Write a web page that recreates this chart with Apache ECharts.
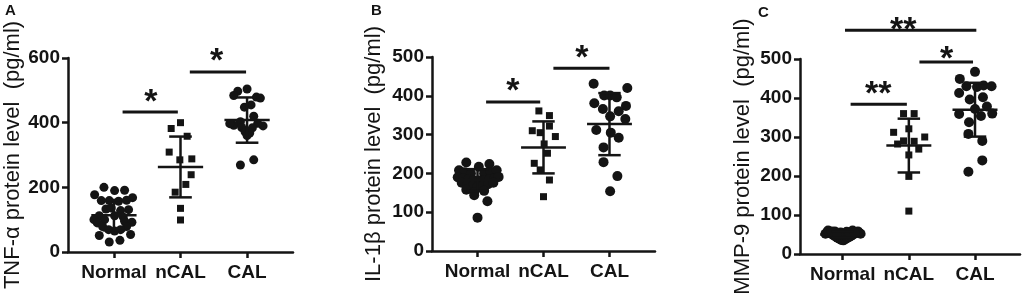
<!DOCTYPE html>
<html>
<head>
<meta charset="utf-8">
<script src="https://cdn.jsdelivr.net/npm/echarts@6/dist/echarts.min.js"></script>
<style>
  html, body { margin: 0; padding: 0; background: #fff; }
  #chart { width: 1023px; height: 294px; }
</style>
</head>
<body>
<div id="chart"></div>
<script>
const groups = ['Normal', 'nCAL', 'CAL'];

// points: [offset from group centre, value]
const tnfNormal = [
  [-0.29, 177], [-0.15, 200], [0.01, 190], [0.16, 191], [0.28, 168],
  [-0.19, 159], [-0.07, 159], [0.07, 157], [0.19, 160],
  [-0.12, 133], [-0.04, 136], [0.22, 131], [0.10, 128],
  [-0.22, 112], [0.01, 112], [0.14, 108], [-0.30, 100],
  [-0.14, 100], [0.16, 95], [-0.25, 90], [0.27, 92],
  [-0.17, 79], [0.19, 79], [-0.08, 69], [0.10, 69], [0.01, 65],
  [-0.22, 51], [0.25, 54], [-0.07, 31], [0.09, 36]
];
const tnfNcal = [
  [0.0, 400], [-0.14, 382], [0.10, 358], [-0.17, 309], [-0.01, 285], [0.17, 288],
  [0.16, 239], [0.08, 209], [-0.08, 185], [0.0, 135], [0.0, 99]
];
const tnfCal = [
  [0.0, 504], [-0.14, 497], [-0.20, 484], [0.14, 479], [0.20, 476], [0.06, 455],
  [-0.04, 448], [0.10, 420], [-0.10, 403], [-0.20, 392], [0.24, 390], [-0.26, 397],
  [0.16, 398], [-0.08, 385], [0.08, 384], [-0.03, 372], [0.04, 368], [0.0, 360],
  [-0.10, 269], [0.10, 285]
];
const tnfMean = [114, 263, 408];
const tnfSd = [47, 94, 70];
// [x1, x2, y, starX, starY, stars]
const tnfSig = [[1.13, 1.96, 433, 1.556, 488, 1], [2.14, 2.985, 557, 2.544, 612, 1]];

const il1bNormal = [
  [-0.17, 228], [0.18, 224], [0.02, 217],
  [-0.28, 208], [-0.20, 203], [-0.10, 200], [0.10, 200], [0.20, 203], [0.29, 208],
  [-0.30, 190], [-0.22, 186], [-0.14, 184], [-0.06, 182], [0.02, 182], [0.10, 183],
  [0.18, 185], [0.26, 188], [0.32, 191],
  [-0.24, 176], [-0.15, 172], [-0.07, 168], [0.0, 165], [0.08, 168], [0.16, 172], [0.24, 176],
  [-0.17, 158], [-0.05, 152], [0.10, 155],
  [-0.05, 144], [0.15, 128], [0.0, 86]
];
const il1bNcal = [
  [-0.07, 361], [0.09, 349], [0.09, 322], [-0.17, 310], [-0.05, 305], [0.18, 295],
  [0.01, 276], [0.06, 252], [-0.14, 226], [-0.05, 209], [0.09, 183], [0.0, 140]
];
const il1bCal = [
  [-0.24, 431], [0.27, 420], [-0.08, 401], [0.01, 401], [0.11, 396], [-0.23, 381],
  [0.25, 374], [-0.10, 366], [0.14, 360], [0.01, 347], [0.24, 340], [-0.20, 312],
  [0.02, 305], [0.14, 292], [-0.09, 267], [-0.09, 229], [0.12, 193], [0.01, 154]
];
const il1bMean = [183, 267, 327];
const il1bSd = [28, 67, 80];
const il1bSig = [[1.13, 1.95, 384, 1.537, 431, 1], [2.15, 3.0, 471, 2.58, 517, 1]];

const mmpNormal = [
  [-0.26, 52], [-0.23, 56], [-0.20, 54], [-0.17, 52], [-0.14, 48], [-0.11, 45],
  [-0.08, 42], [-0.05, 39], [-0.02, 36], [0.01, 35], [0.04, 38], [0.07, 41],
  [0.10, 44], [0.13, 47], [0.16, 50], [0.19, 53], [0.22, 56], [0.25, 54], [0.27, 52],
  [-0.22, 60], [-0.12, 58], [-0.03, 55], [0.06, 57], [0.15, 60], [0.23, 58],
  [-0.17, 58], [0.0, 50], [0.10, 53], [-0.08, 50], [0.18, 55]
];
const mmpNcal = [
  [-0.08, 360], [0.08, 360], [0.0, 321], [-0.23, 312], [0.24, 300], [-0.08, 290],
  [0.08, 289], [-0.17, 282], [0.15, 269], [0.0, 254], [0.0, 199], [0.0, 110]
];
const mmpCal = [
  [0.0, 467], [-0.23, 449], [-0.13, 430], [0.03, 428], [0.13, 432], [0.25, 430],
  [-0.24, 413], [0.12, 402], [-0.08, 396], [0.18, 378], [0.0, 372], [-0.24, 359],
  [0.09, 354], [0.26, 360], [-0.09, 338], [-0.10, 308], [0.11, 290], [0.11, 240], [-0.10, 211]
];
const mmpMean = [50, 278, 370];
const mmpSd = [8, 69, 69];
const mmpSig = [[1.035, 3.02, 574, 1.915, 592, 2], [2.16, 2.97, 492, 2.57, 518, 1], [1.12, 1.97, 384, 1.538, 430, 2]];

const INK = '#141414';
const FONT = 'Liberation Sans, Arial, sans-serif';

const panels = [
  { name: 'TNF-α protein level  (pg/ml)', max: 600, step: 200, xMin: 0.31, xMax: 3.69, gap: 44,
    grid: { left: 68, top: 58, width: 225, height: 194 }, dot: 9,
    pts: [tnfNormal, tnfNcal, tnfCal], mean: tnfMean, sd: tnfSd, sig: tnfSig },
  { name: 'IL-1β protein level  (pg/ml)', max: 500, step: 100, xMin: 0.31, xMax: 3.69, gap: 47,
    grid: { left: 432, top: 57, width: 223, height: 194 }, dot: 10,
    pts: [il1bNormal, il1bNcal, il1bCal], mean: il1bMean, sd: il1bSd, sig: il1bSig },
  { name: 'MMP-9 protein level  (pg/ml)', max: 500, step: 100, xMin: 0.355, xMax: 3.68, gap: 46,
    grid: { left: 800, top: 59, width: 220, height: 195 }, dot: 10,
    pts: [mmpNormal, mmpNcal, mmpCal], mean: mmpMean, sd: mmpSd, sig: mmpSig }
];

function errorBar(params, api) {
  const x = api.value(0), m = api.value(1), s = api.value(2);
  const unit = api.size([1, 0])[0];
  const c = api.coord([x, m]);
  const t = api.coord([x, m + s]);
  const b = api.coord([x, m - s]);
  const wide = unit * 0.34, cap = unit * 0.17;
  const st = { stroke: INK, lineWidth: 2.5 };
  return {
    type: 'group',
    children: [
      { type: 'line', shape: { x1: t[0], y1: t[1], x2: b[0], y2: b[1] }, style: st },
      { type: 'line', shape: { x1: c[0] - wide, y1: c[1], x2: c[0] + wide, y2: c[1] }, style: st },
      { type: 'line', shape: { x1: t[0] - cap, y1: t[1], x2: t[0] + cap, y2: t[1] }, style: st },
      { type: 'line', shape: { x1: b[0] - cap, y1: b[1], x2: b[0] + cap, y2: b[1] }, style: st }
    ]
  };
}

function sigBar(params, api) {
  const p1 = api.coord([api.value(0), api.value(2)]);
  const p2 = api.coord([api.value(1), api.value(2)]);
  const s = api.coord([api.value(3), api.value(4)]);
  return {
    type: 'group',
    children: [
      { type: 'line', shape: { x1: p1[0], y1: p1[1], x2: p2[0], y2: p2[1] },
        style: { stroke: INK, lineWidth: 3 } },
      { type: 'text', x: s[0], y: s[1] + 8,
        style: { text: '*'.repeat(api.value(5)), fill: INK, font: 'bold 34px ' + FONT,
                 align: 'center', verticalAlign: 'middle' } }
    ]
  };
}

const grids = [], xAxes = [], yAxes = [], series = [];
panels.forEach((p, i) => {
  grids.push(Object.assign({ outerBoundsMode: 'none', containLabel: false }, p.grid));
  xAxes.push({
    type: 'value', gridIndex: i, min: p.xMin, max: p.xMax,
    splitLine: { show: false },
    axisLine: { lineStyle: { color: INK, width: 2.5 } },
    axisTick: { length: 6, customValues: [1, 2, 3], lineStyle: { color: INK, width: 2.5 } },
    axisLabel: { customValues: [1, 2, 3], formatter: v => groups[Math.round(v) - 1],
                 color: INK, fontFamily: FONT, fontWeight: 'bold', fontSize: 19, margin: 11 }
  });
  yAxes.push({
    type: 'value', gridIndex: i, min: 0, max: p.max, interval: p.step,
    name: p.name, nameLocation: 'middle', nameGap: p.gap,
    nameTextStyle: { color: INK, fontFamily: FONT, fontSize: 22 },
    splitLine: { show: false },
    axisLine: { show: true, lineStyle: { color: INK, width: 2.5 } },
    axisTick: { show: true, length: 6, lineStyle: { color: INK, width: 2.5 } },
    axisLabel: { color: INK, fontFamily: FONT, fontWeight: 'bold', fontSize: 19, margin: 8 }
  });
  p.pts.forEach((pts, g) => {
    series.push({
      type: 'scatter', xAxisIndex: i, yAxisIndex: i,
      symbol: g === 1 ? 'rect' : 'circle', symbolSize: g === 1 ? 7 : p.dot,
      itemStyle: { color: INK, opacity: 1 },
      emphasis: { disabled: true },
      data: pts.map(d => [g + 1 + d[0], d[1]])
    });
  });
  series.push({
    type: 'custom', xAxisIndex: i, yAxisIndex: i, z: 5,
    renderItem: errorBar,
    data: p.mean.map((m, g) => [g + 1, m, p.sd[g]])
  });
  series.push({
    type: 'custom', xAxisIndex: i, yAxisIndex: i, z: 5, clip: false,
    renderItem: sigBar,
    data: p.sig
  });
});

const chart = echarts.init(document.getElementById('chart'), null, { renderer: 'canvas' });
chart.setOption({
  animation: false,
  backgroundColor: '#fff',
  title: [
    { text: 'A', left: 5, top: 3 },
    { text: 'B', left: 371, top: 3 },
    { text: 'C', left: 758, top: 5 }
  ].map(t => Object.assign(t, { padding: 0,
    textStyle: { color: INK, fontFamily: FONT, fontWeight: 'bold', fontSize: 15 } })),
  grid: grids,
  xAxis: xAxes,
  yAxis: yAxes,
  series: series
});
</script>
</body>
</html>
